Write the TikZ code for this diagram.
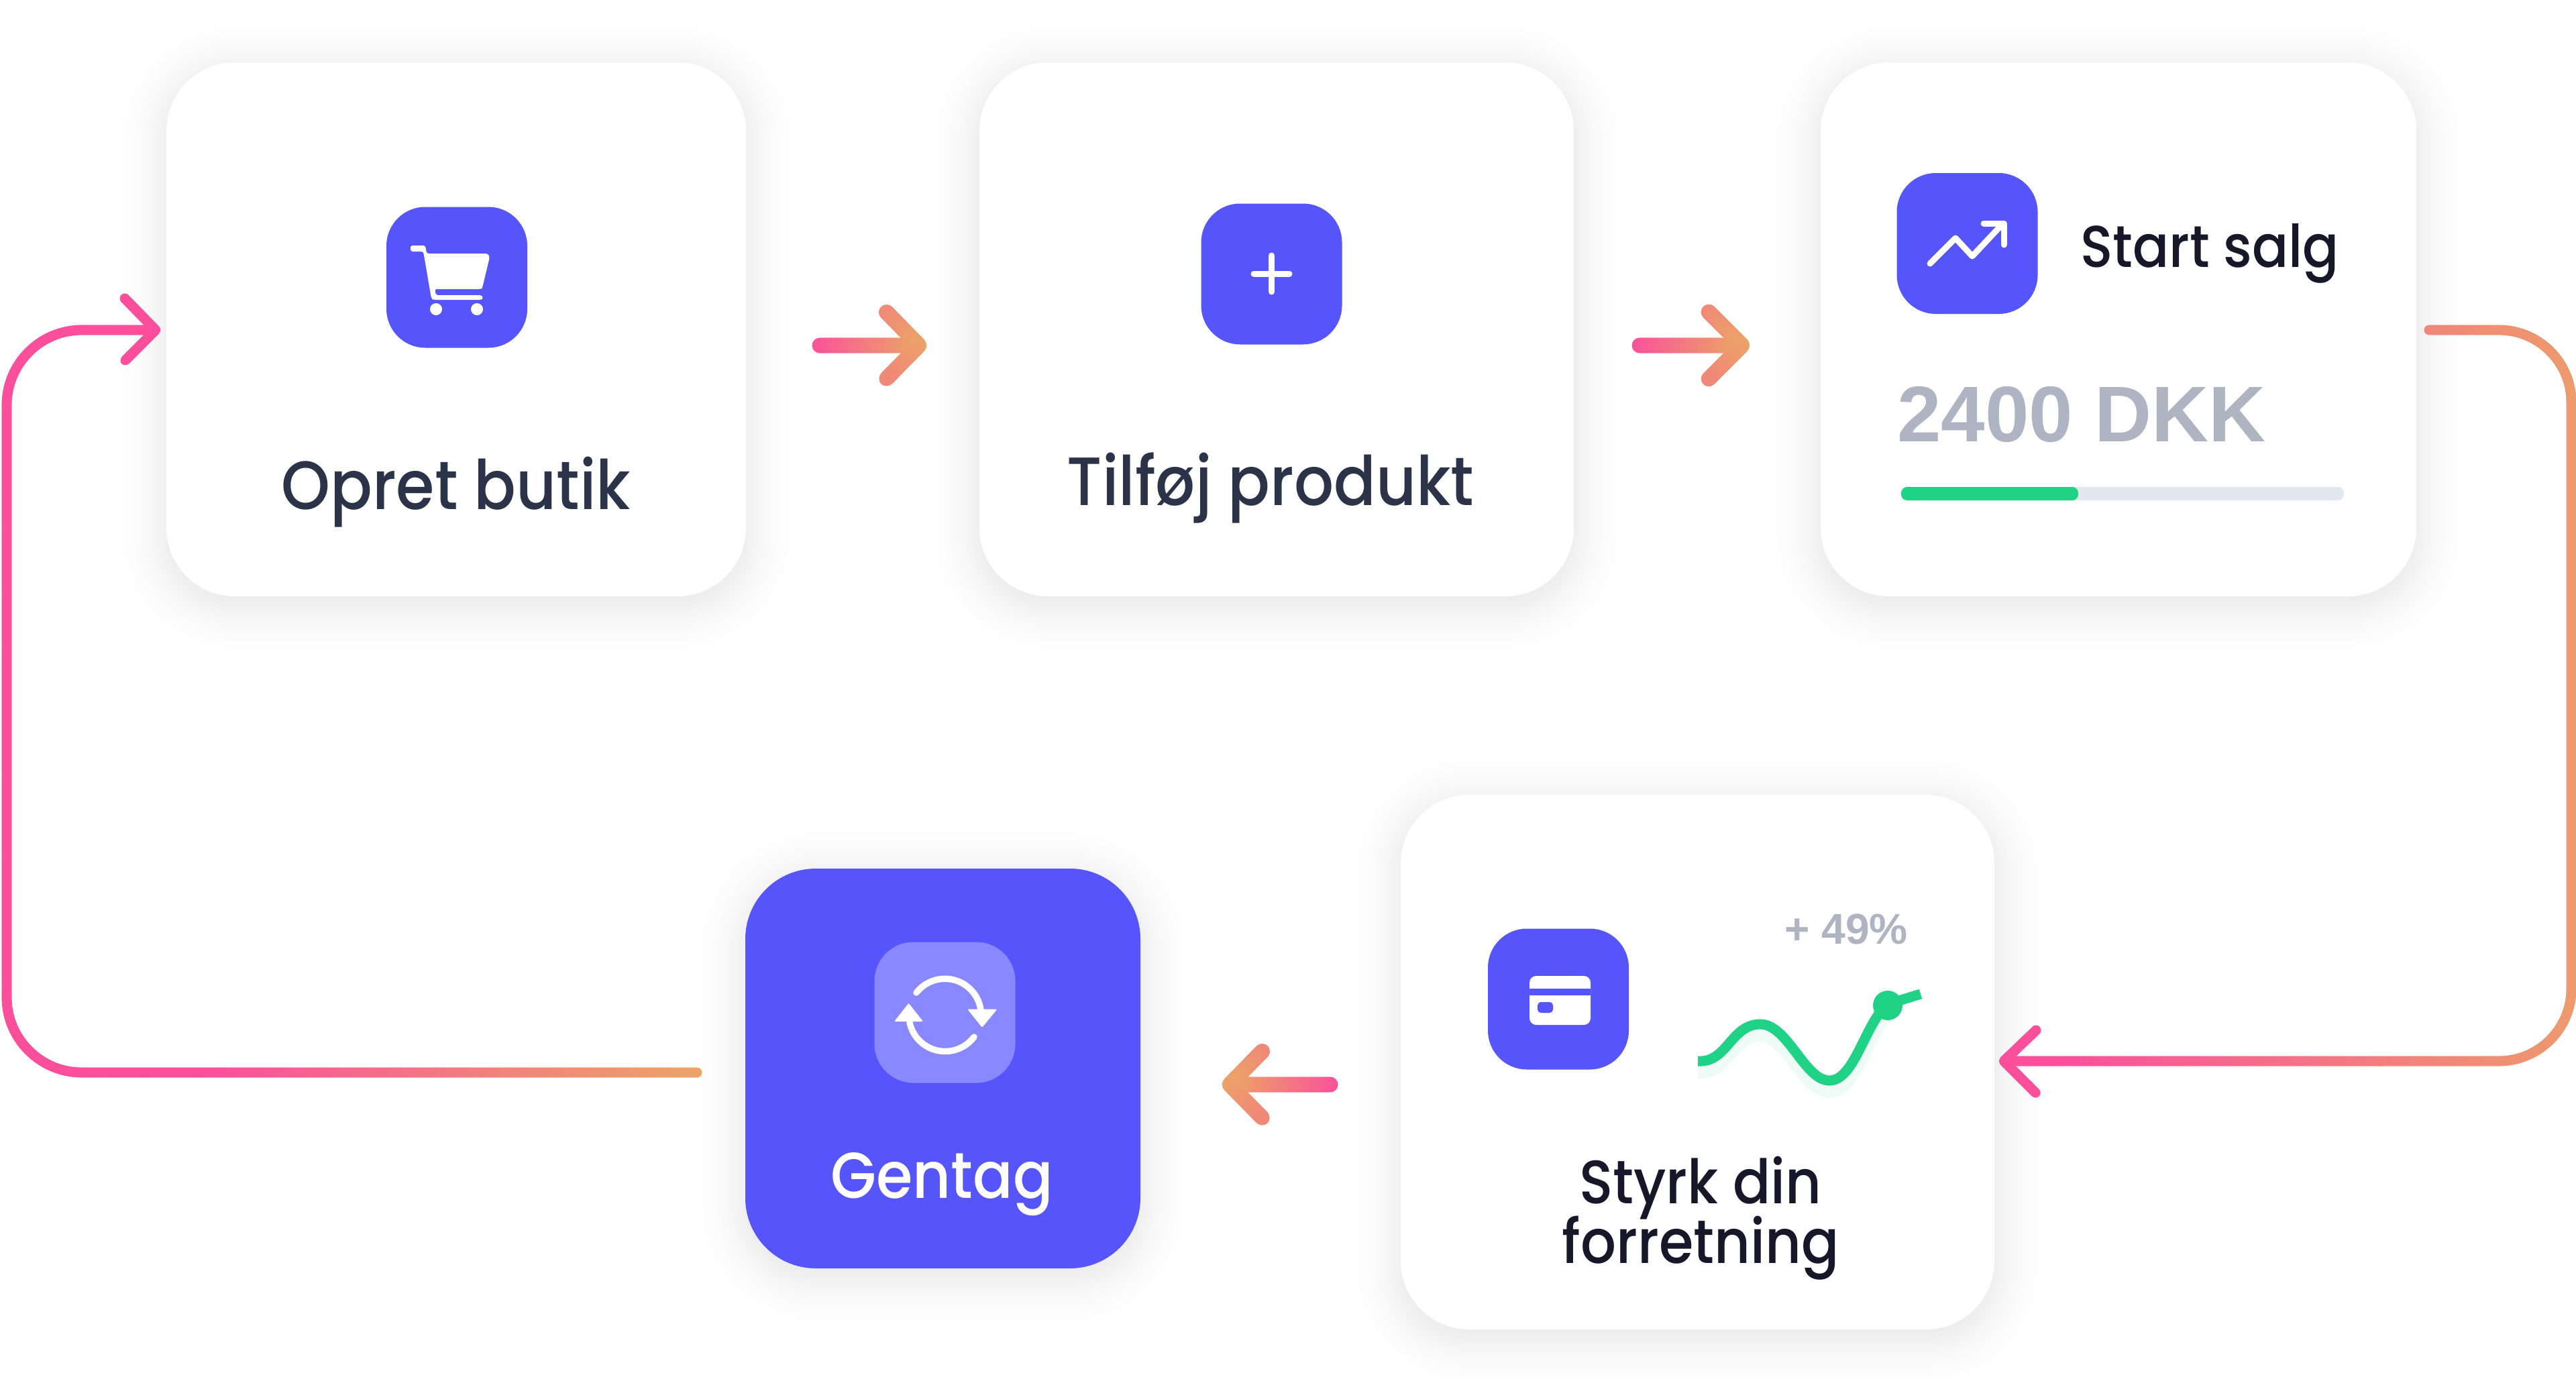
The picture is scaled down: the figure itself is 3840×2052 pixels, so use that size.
\documentclass[tikz,border=0pt]{standalone}
\usepackage{fontspec}
\setmainfont{Poppins}[UprightFont=* Medium,FakeStretch=0.91]
\newfontfamily\arialb{Liberation Sans Bold}
\usetikzlibrary{decorations.markings}
\definecolor{indigoC}{HTML}{5655FB}
\definecolor{indigoL}{HTML}{8A88FF}
\definecolor{pinkC}{HTML}{FB4F9C}
\definecolor{orangeC}{HTML}{EBA566}
\definecolor{midC}{HTML}{F37A81}
\definecolor{slateC}{HTML}{2A3347}
\definecolor{inkC}{HTML}{16182A}
\definecolor{greyC}{HTML}{AEB4C1}
\definecolor{greenC}{HTML}{1FD286}
\definecolor{trackC}{HTML}{E2E8F0}
\newdimen\pxu \pxu=0.02cm
\def\pxval{0.569055}
\newcommand{\fsz}[1]{\fontsize{#1}{#1}\selectfont}
\newcommand{\softshadow}[5]{%
  \foreach \e in {-30,-24,-18,-12,-8,-4,0,3,6,9,12,15,18,22,26,30,35,40,46,53,61,72}{%
    \fill[black,opacity=0.0055,rounded corners={(#5+\e)*\pxu}]
      (#1-\e,#2-\e+12) rectangle (#3+\e,#4+\e+12);}}
\tikzset{
  card/.style={fill=white,rounded corners=102*\pxu,inner sep=0pt},
  iconbox/.style={fill=indigoC,rounded corners=58*\pxu,inner sep=0pt,minimum width=210*\pxu,minimum height=210*\pxu},
  lbl/.style={inner sep=0pt,anchor=base},
  glyph/.style={draw=white,line width=9*\pxu,line cap=round,line join=round},
  gradconn/.style n args={3}{
    /utils/exec={\def\gxa{#1}\def\gxb{#2}\def\gw{#3}},
    draw=midC,line width={(#3-2)*\pxu},line cap=round,line join=round,
    postaction={decorate,decoration={markings,
      mark=between positions 0 and 0.9999 step 1.2pt with {
        \pgfgettransformentries{\ma}{\mb}{\mc}{\md}{\mx}{\my}
        \pgfmathsetmacro\gp{min(100,max(0,(\mx/\pxval-\gxa)/(\gxb-\gxa)*100))}
        \fill[orangeC!\gp!pinkC] (0,0) circle[radius={\gw*\pxval*0.5pt}];
      }}}},
}
\begin{document}
\begin{tikzpicture}[x=0.02cm,y=-0.02cm]
\useasboundingbox (0,0) rectangle (3840,2052);
\fill[white] (0,0) rectangle (3840,2052);
% shadows
\softshadow{248}{93}{1112}{889}{102}
\softshadow{1460}{93}{2346}{889}{102}
\softshadow{2714}{93}{3602}{889}{102}
\softshadow{2088}{1185}{2973}{1982}{102}
\softshadow{1111}{1295}{1700}{1891}{105}
% cards
\node[card,minimum width=864*\pxu,minimum height=796*\pxu] (card1) at (680,491) {};
\node[card,minimum width=886*\pxu,minimum height=796*\pxu] (card2) at (1903,491) {};
\node[card,minimum width=888*\pxu,minimum height=796*\pxu] (card3) at (3158,491) {};
\node[card,minimum width=885*\pxu,minimum height=797*\pxu] (card4) at (2530.5,1583.5) {};
\node[card,fill=indigoC,rounded corners=105*\pxu,minimum width=589*\pxu,minimum height=596*\pxu] (card5) at (1405.5,1593) {};
% coordinates of connectors
\coordinate (a1t) at (1222,515); \coordinate (a1h) at (1370,515);
\coordinate (a1u) at (1321,465); \coordinate (a1d) at (1321,565);
\coordinate (a2t) at (2444,515); \coordinate (a2h) at (2597,515);
\coordinate (a2u) at (2547,465); \coordinate (a2d) at (2547,565);
\coordinate (a3t) at (1983,1617); \coordinate (a3h) at (1833,1617);
\coordinate (a3u) at (1882,1567); \coordinate (a3d) at (1882,1667);
\coordinate (r0) at (3621,492); \coordinate (r1) at (3833,492);
\coordinate (r2) at (3833,1582); \coordinate (rh) at (2987,1582);
\coordinate (ru) at (3035,1536); \coordinate (rd) at (3035,1630);
\coordinate (l0) at (1039,1599); \coordinate (l1) at (10,1599);
\coordinate (l2) at (10,492); \coordinate (lh) at (232,492);
\coordinate (lu) at (186,445); \coordinate (ld) at (186,538);
% connectors
\draw[gradconn={1215}{1375}{23}] (a1t) -- (a1h) -- (a1u) -- (a1h) -- (a1d);
\draw[gradconn={2437}{2602}{23}] (a2t) -- (a2h) -- (a2u) -- (a2h) -- (a2d);
\draw[gradconn={1990}{1828}{23}] (a3t) -- (a3h) -- (a3u) -- (a3h) -- (a3d);
\draw[gradconn={3060}{3950}{15},rounded corners=108*\pxu] (r0) -- (r1) -- (r2) -- (rh);
\draw[gradconn={3060}{3950}{15}] (ru) -- (rh) -- (rd);
\draw[gradconn={300}{1050}{15},rounded corners=112*\pxu] (l0) -- (l1) -- (l2) -- (lh);
\draw[gradconn={300}{1050}{15}] (lu) -- (lh) -- (ld);
% icon boxes
\node[iconbox] (icon1) at (681,413.5) {};
\node[iconbox] (icon2) at (1895.5,408.5) {};
\node[iconbox] (icon3) at (2932.5,363) {};
\node[iconbox] (icon4) at (2323,1489.5) {};
\node[iconbox,fill=indigoL] (icon5) at (1408.5,1509.5) {};
% cart
\fill[white,rounded corners=3*\pxu] (636,378) -- (727,378) -- (730,383) -- (719,429) -- (717,431) -- (648,431) -- (650,440) -- (718,440) -- (720,444) -- (718,447) -- (646,447) -- (643,445) -- (631,375) -- (612,375) -- (612,366) -- (634,366) -- cycle;
\fill[white] (650,461) circle[radius=9] (711,461) circle[radius=9];
% plus
\draw[glyph] (1869,408) -- (1922,408) (1895.5,381) -- (1895.5,435);
% chart
\draw[glyph] (2877,393) -- (2915,355) -- (2940,382) -- (2985,334);
\draw[glyph] (2957,333) -- (2987,333) -- (2987,365);
% credit card
\fill[white,rounded corners=10*\pxu] (2280,1455) rectangle (2371,1528);
\fill[indigoC] (2280,1474) rectangle (2371,1484);
\fill[indigoC,rounded corners=5*\pxu] (2292,1494) rectangle (2315,1510);
% refresh
\draw[draw=white,line width=9.5*\pxu,line cap=round] (1366,1480) arc[start angle=218,end angle=354,radius=54];
\draw[draw=white,line width=9.5*\pxu,line cap=round] (1452,1546) arc[start angle=37,end angle=168,radius=54];
\fill[white,rounded corners=1.5*\pxu] (1442,1504.5) -- (1486.5,1504.5) -- (1464,1532) -- cycle;
\fill[white,rounded corners=1.5*\pxu] (1333,1523) -- (1376,1523) -- (1354.5,1495.5) -- cycle;
% progress
\fill[trackC,rounded corners=9*\pxu] (2834,726) rectangle (3494,746);
\fill[greenC,rounded corners=9*\pxu] (2834,726) rectangle (3098,746);
% green curve
\foreach \dy/\wd/\op in {12/30/0.02,14/24/0.025,16/18/0.03}{
\draw[greenC,opacity=\op,line width=\wd*\pxu] (2531,1582+\dy) .. controls (2575,1585+\dy) and (2580,1527+\dy) .. (2624,1527+\dy) .. controls (2665,1527+\dy) and (2690,1611+\dy) .. (2727,1611+\dy) .. controls (2765,1611+\dy) and (2780,1525+\dy) .. (2814,1497+\dy);}
\draw[greenC,line width=15*\pxu] (2531,1582) .. controls (2575,1585) and (2580,1527) .. (2624,1527) .. controls (2665,1527) and (2690,1611) .. (2727,1611) .. controls (2765,1611) and (2780,1525) .. (2814,1497) -- (2863,1482);
\fill[greenC] (2814,1499) circle[radius=22];
% texts
\node[lbl,text=slateC] (t1) at (680,759) {\fsz{58}Opret butik};
\node[lbl,text=slateC] (t2) at (1894,753) {\fsz{58}Tilføj produkt};
\node[lbl,text=inkC,anchor=base west] (t3) at (3101,398) {\fsz{50}Start salg};
\node[lbl,text=greyC,anchor=base west] (t4) at (2828,658) {\fsz{67}\arialb 2400 DKK};
\node[lbl,text=greyC,anchor=base west] (t5) at (2660,1407) {\fsz{36.5}\arialb + 49\%};
\node[lbl,text=inkC] (t6) at (2535,1794) {\fsz{52}Styrk din};
\node[lbl,text=inkC] (t7) at (2535,1883) {\fsz{52}forretning};
\node[lbl,text=white] (t8) at (1404,1786) {\fsz{55}Gentag};
\end{tikzpicture}
\end{document}
